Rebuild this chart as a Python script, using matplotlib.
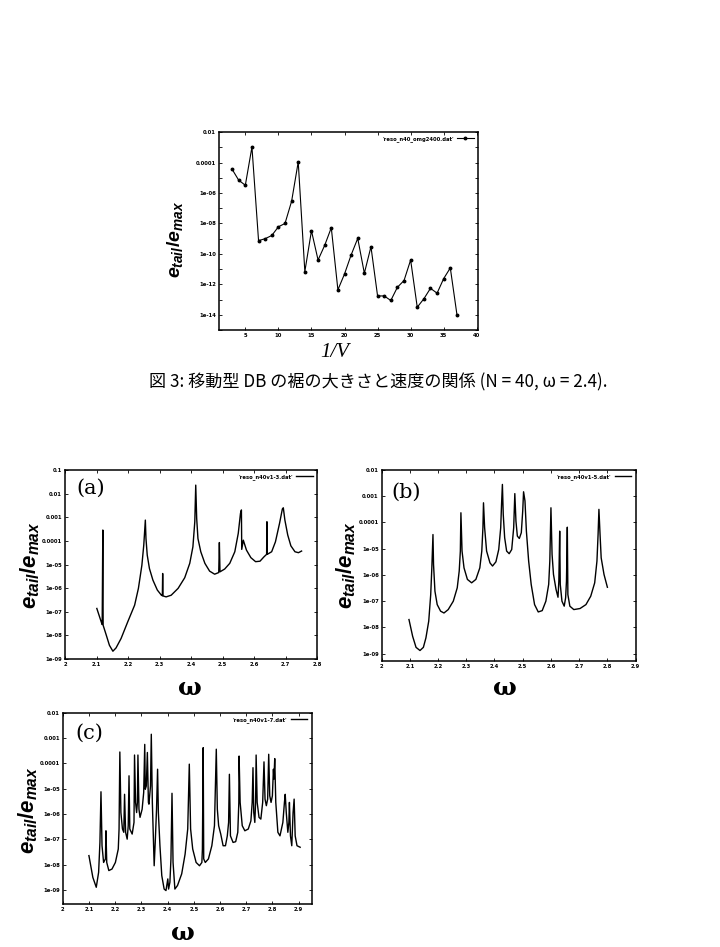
"""Resonance tail amplitude figures (e_tail / e_max) for moving DB."""

import matplotlib

matplotlib.use("Agg")
import matplotlib.pyplot as plt
import numpy as np
from matplotlib.ticker import FixedFormatter, FixedLocator, NullFormatter, NullLocator


plt.rcParams["mathtext.fontset"] = "custom"
plt.rcParams["mathtext.it"] = "Liberation Sans:italic:bold"
plt.rcParams["mathtext.rm"] = "Liberation Sans:bold"

# --- top panel: tail size vs 1/V (N = 40, omega = 2.4) ---
top_n = list(range(3, 38))
top_log_e = [-4.44, -5.16, -5.49, -2.98, -9.13, -9.0, -8.79, -8.22, -8.0,
             -6.54, -3.96, -11.16, -8.48, -10.4, -9.44, -8.28, -12.36,
             -11.32, -10.07, -8.98, -11.27, -9.53, -12.76, -12.76, -13.06,
             -12.19, -11.75, -10.4, -13.5, -12.95, -12.26, -12.58, -11.62,
             -10.92, -13.98]
top_yticks = [1e-2, 1e-4, 1e-6, 1e-8, 1e-10, 1e-12, 1e-14]
top_ytick_labels = ["0.01", "0.0001", "1e-06", "1e-08", "1e-10", "1e-12", "1e-14"]
top_yminor = [1e-3, 1e-5, 1e-7, 1e-9, 1e-11, 1e-13, 1e-15]
top_xticks = [5, 10, 15, 20, 25, 30, 35, 40]

# --- panel (a): reso_n40v1-3 ---
a_omega = [2.101, 2.115, 2.118, 2.120, 2.121, 2.131, 2.141, 2.152, 2.162,
           2.178, 2.199, 2.221, 2.233, 2.244, 2.250, 2.255, 2.257, 2.261,
           2.268, 2.279, 2.293, 2.306, 2.309, 2.310, 2.311, 2.321, 2.337,
           2.359, 2.380, 2.396, 2.406, 2.412, 2.415, 2.418, 2.422, 2.431,
           2.444, 2.459, 2.475, 2.488, 2.490, 2.492, 2.507, 2.523, 2.539,
           2.550, 2.557, 2.560, 2.561, 2.566, 2.576, 2.590, 2.605, 2.619,
           2.632, 2.640, 2.641, 2.642, 2.656, 2.668, 2.681, 2.690, 2.693,
           2.698, 2.707, 2.717, 2.730, 2.741, 2.751]
a_log_e = [-6.86, -7.43, -7.54, -3.54, -7.57, -7.99, -8.42, -8.67, -8.53,
           -8.13, -7.43, -6.72, -6.01, -5.03, -4.18, -3.12, -3.90, -4.60,
           -5.17, -5.66, -6.08, -6.30, -6.32, -5.38, -6.33, -6.37, -6.30,
           -6.01, -5.56, -4.95, -4.25, -3.19, -1.64, -3.05, -3.90, -4.46,
           -4.95, -5.28, -5.41, -5.34, -4.07, -5.31, -5.19, -4.95, -4.46,
           -3.68, -2.84, -2.69, -4.36, -3.97, -4.39, -4.71, -4.88, -4.86,
           -4.67, -4.57, -3.19, -4.57, -4.46, -4.04, -3.26, -2.65, -2.60,
           -3.12, -3.75, -4.21, -4.46, -4.50, -4.43]

# --- panel (b): reso_n40v1-5 ---
b_omega = [2.097, 2.110, 2.122, 2.136, 2.148, 2.157, 2.167, 2.174, 2.178,
           2.182, 2.184, 2.189, 2.197, 2.209, 2.221, 2.236, 2.254, 2.268,
           2.275, 2.279, 2.281, 2.285, 2.292, 2.304, 2.319, 2.334, 2.348,
           2.355, 2.359, 2.361, 2.365, 2.372, 2.384, 2.393, 2.405, 2.415,
           2.422, 2.425, 2.428, 2.431, 2.436, 2.443, 2.452, 2.461, 2.468,
           2.472, 2.476, 2.481, 2.488, 2.495, 2.500, 2.503, 2.508, 2.513,
           2.521, 2.530, 2.542, 2.555, 2.569, 2.582, 2.592, 2.596, 2.600,
           2.604, 2.609, 2.618, 2.625, 2.628, 2.631, 2.633, 2.639, 2.647,
           2.652, 2.655, 2.658, 2.660, 2.667, 2.681, 2.703, 2.724, 2.741,
           2.755, 2.763, 2.767, 2.770, 2.774, 2.778, 2.788, 2.800]
b_log_e = [-7.70, -8.34, -8.76, -8.88, -8.76, -8.40, -7.76, -6.75, -5.73,
           -4.46, -5.60, -6.62, -7.13, -7.38, -7.45, -7.32, -7.00, -6.49,
           -5.85, -5.09, -3.63, -5.09, -5.73, -6.17, -6.30, -6.17, -5.73,
           -5.09, -4.20, -3.25, -4.20, -5.09, -5.54, -5.66, -5.50, -5.03,
           -4.20, -3.31, -2.55, -3.69, -4.58, -5.09, -5.19, -5.03, -4.20,
           -2.90, -3.95, -4.52, -4.61, -4.39, -3.56, -2.83, -3.18, -4.33,
           -5.47, -6.36, -7.13, -7.41, -7.36, -7.00, -6.36, -5.47, -3.44,
           -5.22, -5.98, -6.55, -6.85, -6.24, -4.33, -6.36, -7.00, -7.19,
           -6.87, -6.24, -4.18, -6.75, -7.19, -7.32, -7.28, -7.13, -6.81,
           -6.30, -5.47, -4.46, -3.50, -4.46, -5.35, -5.98, -6.47]

# --- panel (c): reso_n40v1-7 ---
c_omega = [2.100, 2.115, 2.128, 2.137, 2.142, 2.146, 2.150, 2.156, 2.163,
           2.165, 2.168, 2.176, 2.188, 2.201, 2.212, 2.215, 2.218, 2.222,
           2.228, 2.233, 2.236, 2.240, 2.246, 2.250, 2.253, 2.256, 2.265,
           2.272, 2.274, 2.278, 2.282, 2.285, 2.287, 2.291, 2.295, 2.303,
           2.309, 2.313, 2.315, 2.319, 2.323, 2.327, 2.329, 2.335, 2.338,
           2.342, 2.349, 2.353, 2.358, 2.362, 2.365, 2.371, 2.378, 2.387,
           2.394, 2.399, 2.401, 2.404, 2.409, 2.413, 2.417, 2.421, 2.428,
           2.438, 2.454, 2.467, 2.477, 2.483, 2.488, 2.496, 2.509, 2.522,
           2.531, 2.533, 2.536, 2.538, 2.544, 2.556, 2.569, 2.579, 2.586,
           2.590, 2.595, 2.603, 2.612, 2.621, 2.628, 2.633, 2.636, 2.640,
           2.650, 2.660, 2.668, 2.672, 2.673, 2.677, 2.685, 2.695, 2.708,
           2.718, 2.723, 2.726, 2.729, 2.733, 2.736, 2.738, 2.742, 2.749,
           2.756, 2.763, 2.768, 2.772, 2.777, 2.782, 2.786, 2.790, 2.795,
           2.800, 2.804, 2.806, 2.809, 2.813, 2.821, 2.829, 2.840, 2.846,
           2.849, 2.853, 2.859, 2.863, 2.865, 2.869, 2.874, 2.879, 2.883,
           2.887, 2.894, 2.906]
c_log_e = [-7.64, -8.50, -8.89, -8.30, -7.12, -5.12, -7.25, -7.91, -7.77,
           -6.66, -7.91, -8.23, -8.17, -7.91, -7.38, -6.59, -3.55, -5.94,
           -6.59, -6.72, -5.22, -6.72, -6.99, -6.46, -4.49, -6.59, -6.79,
           -6.33, -3.67, -5.54, -5.94, -5.54, -3.67, -5.81, -6.13, -5.81,
           -5.15, -3.25, -5.02, -4.89, -3.57, -5.54, -5.61, -4.89, -2.85,
           -5.54, -8.04, -7.12, -5.81, -4.23, -5.94, -7.25, -8.43, -8.96,
           -9.02, -8.69, -8.56, -8.96, -8.69, -7.77, -5.18, -7.91, -8.96,
           -8.82, -8.36, -7.58, -6.59, -4.03, -6.59, -7.38, -7.91, -8.04,
           -7.91, -7.38, -3.38, -7.77, -7.91, -7.77, -7.25, -6.46, -3.44,
           -5.81, -6.46, -6.79, -7.25, -7.25, -6.86, -6.33, -4.43, -6.86,
           -7.12, -7.09, -6.72, -5.54, -3.71, -5.54, -6.46, -6.66, -6.59,
           -6.27, -5.54, -4.17, -5.94, -6.33, -5.54, -3.67, -5.54, -6.13,
           -6.20, -5.54, -3.94, -5.41, -5.67, -5.41, -3.64, -5.28, -5.54,
           -5.28, -4.23, -4.62, -3.81, -5.54, -6.72, -6.86, -6.33, -5.54,
           -5.22, -5.94, -6.72, -6.33, -5.54, -6.86, -7.25, -5.94, -5.41,
           -6.86, -7.25, -7.31]

panel_yticks_a = [1e-1, 1e-2, 1e-3, 1e-4, 1e-5, 1e-6, 1e-7, 1e-8, 1e-9]
panel_ytick_labels_a = ["0.1", "0.01", "0.001", "0.0001", "1e-05", "1e-06",
                        "1e-07", "1e-08", "1e-09"]
panel_yticks_bc = panel_yticks_a[1:]
panel_ytick_labels_bc = panel_ytick_labels_a[1:]
omega_ticks_a = [2.0, 2.1, 2.2, 2.3, 2.4, 2.5, 2.6, 2.7, 2.8]
omega_ticks_bc = omega_ticks_a + [2.9]

caption = "図 3: 移動型 DB の裾の大きさと速度の関係 (N = 40, ω = 2.4)."
ylabel_text = r"$e_{tail}/e_{max}$"

tick_fontsize_pt = 3.8
legend_fontsize_pt = 3.8


def style_axes(ax, xticks, yticks, ytick_labels):
    ax.set_yscale("log")
    ax.xaxis.set_major_locator(FixedLocator(xticks))
    ax.xaxis.set_major_formatter(FixedFormatter([f"{t:g}" for t in xticks]))
    ax.yaxis.set_major_locator(FixedLocator(yticks))
    ax.yaxis.set_major_formatter(FixedFormatter(ytick_labels))
    ax.yaxis.set_minor_locator(NullLocator())
    ax.yaxis.set_minor_formatter(NullFormatter())
    ax.tick_params(which="both", direction="in", top=True, right=True,
                   length=2.5, width=0.6, labelsize=tick_fontsize_pt, pad=2)
    for label in ax.get_xticklabels() + ax.get_yticklabels():
        label.set_fontweight("bold")
    for spine in ax.spines.values():
        spine.set_linewidth(1.1)


def add_legend(ax):
    leg = ax.legend(loc="upper right", frameon=False,
                    fontsize=legend_fontsize_pt, handlelength=3.2,
                    markerfirst=False, borderaxespad=0.4, handletextpad=0.6)
    for text in leg.get_texts():
        text.set_fontweight("bold")


fig = plt.figure(figsize=(7.2, 9.47), dpi=100)

# top figure
ax_top = fig.add_axes([0.304, 0.6515, 0.36, 0.209])
ax_top.plot(top_n, 10.0 ** np.array(top_log_e), color="black", lw=0.8,
            marker="o", markersize=1.8, label="'reso_n40_omg2400.dat'")
style_axes(ax_top, top_xticks, top_yticks, top_ytick_labels)
ax_top.yaxis.set_minor_locator(FixedLocator(top_yminor))
ax_top.yaxis.set_minor_formatter(NullFormatter())
ax_top.set_xlim(1, 40.2)
ax_top.set_ylim(1e-15, 1e-2)
add_legend(ax_top)
fig.text(0.243, 0.747, ylabel_text, rotation=90, fontsize=14,
         ha="center", va="center")
fig.text(0.465, 0.628, "1/V", fontsize=15, family="Liberation Serif",
         style="italic", ha="center", va="center")
fig.text(0.525, 0.5966, caption, fontsize=12.3,
         family=["Noto Sans CJK JP", "DejaVu Sans"], ha="center", va="center")

panels = [
    ("(a)", [0.0903, 0.3041, 0.350, 0.1996], a_omega, a_log_e,
     omega_ticks_a, (2.0, 2.8), (1e-9, 1e-1), panel_yticks_a,
     panel_ytick_labels_a, "'reso_n40v1-3.dat'", (0.045, 0.955),
     (0.042, 0.4034), (0.264, 0.2735)),
    ("(b)", [0.530, 0.302, 0.3528, 0.2017], b_omega, b_log_e,
     omega_ticks_bc, (2.0, 2.9), (10 ** -9.28, 1e-2), panel_yticks_bc,
     panel_ytick_labels_bc, "'reso_n40v1-5.dat'", (0.04, 0.935),
     (0.481, 0.4034), (0.701, 0.2735)),
    ("(c)", [0.0871, 0.0454, 0.3458, 0.202], c_omega, c_log_e,
     omega_ticks_bc, (2.0, 2.95), (10 ** -9.55, 1e-2), panel_yticks_bc,
     panel_ytick_labels_bc, "'reso_n40v1-7.dat'", (0.05, 0.94),
     (0.039, 0.145), (0.254, 0.0148)),
]

for (letter, rect, omega, log_e, xticks, xlim, ylim, yticks, ytick_labels,
     legend_label, letter_pos, ylabel_pos, xlabel_pos) in panels:
    ax = fig.add_axes(rect)
    ax.plot(omega, 10.0 ** np.array(log_e), color="black", lw=1.0,
            label=legend_label)
    style_axes(ax, xticks, yticks, ytick_labels)
    ax.set_xlim(*xlim)
    ax.set_ylim(*ylim)
    add_legend(ax)
    ax.text(letter_pos[0], letter_pos[1], letter, transform=ax.transAxes,
            fontsize=15, family="DejaVu Serif", ha="left", va="top")
    fig.text(ylabel_pos[0], ylabel_pos[1], ylabel_text, rotation=90,
             fontsize=16, ha="center", va="center")
    fig.text(xlabel_pos[0], xlabel_pos[1], "ω", fontsize=18,
             family="DejaVu Serif", fontweight="bold", ha="center",
             va="center")

fig.savefig("out.png", dpi=100)
